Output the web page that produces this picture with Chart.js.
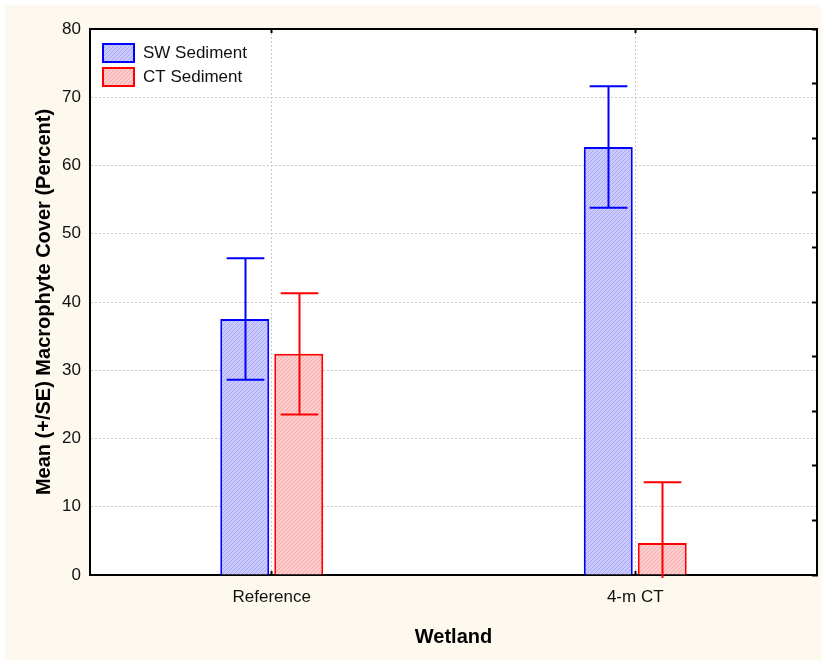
<!DOCTYPE html>
<html><head><meta charset="utf-8">
<script src="https://cdn.jsdelivr.net/npm/chart.js@4/dist/chart.umd.min.js"></script>
<style>html,body{margin:0;padding:0;background:#fff;}#wrap{width:822px;height:662px;}</style>
</head><body><div id="wrap"><canvas id="c" width="822" height="662"></canvas></div>
<script>
const categories = ['Reference', '4-m CT'];
const seriesNames = ['SW Sediment', 'CT Sediment'];
const swMeans = [37.5, 62.7];
const ctMeans = [32.4, 4.7];
const swSE = [8.9, 8.9];
const ctSE = [8.9, 8.9];
const yMin = 0, yMax = 80, yStep = 10, rightTickStep = 8;
const xTitle = 'Wetland';
const yTitle = 'Mean (+/SE) Macrophyte Cover (Percent)';

function makePattern(bg, fg) {
  const p = document.createElement('canvas');
  p.width = 4; p.height = 4;
  const g = p.getContext('2d');
  g.fillStyle = bg; g.fillRect(0, 0, 4, 4);
  g.fillStyle = fg;
  for (let i = 0; i < 4; i++) g.fillRect(i, 3 - i, 1, 1);
  return g.createPattern(p, 'repeat');
}
const ctx = document.getElementById('c').getContext('2d');
const bluePat = makePattern('#cacaff', '#a8a8f4');
const redPat = makePattern('#ffcccc', '#f4abab');

const bgPlugin = {
  id: 'bg',
  beforeDraw(chart) {
    const c = chart.ctx, a = chart.chartArea;
    c.save();
    c.fillStyle = '#ffffff'; c.fillRect(0, 0, chart.width, chart.height);
    c.fillStyle = '#fdf9ef'; c.fillRect(5, 5, chart.width - 5, chart.height - 7);
    c.fillStyle = '#ffffff'; c.fillRect(a.left, a.top, a.right - a.left, a.bottom - a.top);
    c.restore();
  }
};

const errPlugin = {
  id: 'errbars',
  afterDatasetsDraw(chart) {
    const c = chart.ctx, a = chart.chartArea, ys = chart.scales.y;
    c.save();
    c.beginPath(); c.rect(a.left, a.top, a.right - a.left, a.bottom - a.top + 3); c.clip();
    chart.data.datasets.forEach((ds, di) => {
      const meta = chart.getDatasetMeta(di);
      meta.data.forEach((bar, i) => {
        const v = ds.data[i], se = ds.se[i];
        const x = Math.round(bar.x) + 0.5;
        const yu = ys.getPixelForValue(v + se), yl = ys.getPixelForValue(v - se);
        const half = bar.width * 0.385;
        c.strokeStyle = ds.borderColor; c.lineWidth = 2;
        c.beginPath();
        c.moveTo(x, yl); c.lineTo(x, yu);
        c.moveTo(x - half, yu); c.lineTo(x + half, yu);
        if (v - se >= yMin) { c.moveTo(x - half, yl); c.lineTo(x + half, yl); }
        c.stroke();
      });
    });
    c.restore();
  }
};

const legendPlugin = {
  id: 'insideLegend',
  afterDraw(chart) {
    const c = chart.ctx, a = chart.chartArea;
    c.save();
    c.font = '17px "Liberation Sans", Arial, sans-serif';
    c.textBaseline = 'middle'; c.textAlign = 'left';
    chart.data.datasets.forEach((ds, i) => {
      const bx = a.left + 13, by = a.top + 15 + i * 24;
      c.fillStyle = ds.backgroundColor; c.fillRect(bx, by, 31, 18);
      c.strokeStyle = ds.borderColor; c.lineWidth = 2; c.strokeRect(bx, by, 31, 18);
      c.fillStyle = '#111'; c.fillText(ds.label, a.left + 53, by + 9.5);
    });
    c.restore();
  }
};

const tickFont = { family: '"Liberation Sans", Arial, sans-serif', size: 17 };
const titleFont = { family: '"Liberation Sans", Arial, sans-serif', size: 20, weight: 'bold' };

new Chart(ctx, {
  type: 'bar',
  data: {
    labels: categories,
    datasets: [
      { label: seriesNames[0], data: swMeans, se: swSE, backgroundColor: bluePat, borderColor: '#0000ff', borderWidth: 2,
        categoryPercentage: 0.297, barPercentage: 0.907 },
      { label: seriesNames[1], data: ctMeans, se: ctSE, backgroundColor: redPat, borderColor: '#ff0000', borderWidth: 2,
        categoryPercentage: 0.297, barPercentage: 0.907 }
    ]
  },
  options: {
    responsive: false, animation: false, devicePixelRatio: 1,
    layout: { padding: 0 },
    plugins: { legend: { display: false }, tooltip: { enabled: false } },
    scales: {
      x: {
        position: 'bottom', offset: true,
        grid: { offset: false, color: '#c8c8c8', lineWidth: 1, tickLength: -4, tickColor: '#000', tickWidth: 2 },
        border: { display: true, color: '#000', width: 2, dash: [2, 2] },
        ticks: { font: tickFont, color: '#111', padding: 16, maxRotation: 0 },
        title: { display: true, text: xTitle, font: titleFont, color: '#000', padding: { top: 0, bottom: 13 } },
        afterFit(s) { s.height = 87; }
      },
      x2: {
        position: 'top', type: 'category', labels: categories, offset: true,
        grid: { offset: false, drawOnChartArea: false, tickLength: -4, tickColor: '#000', tickWidth: 2 },
        border: { display: true, color: '#000', width: 2 },
        ticks: { display: false },
        afterFit(s) { s.height = 29; }
      },
      y: {
        position: 'left', min: yMin, max: yMax,
        grid: { color: '#c8c8c8', lineWidth: 1, drawTicks: false },
        border: { display: true, color: '#000', width: 2, dash: [2, 2] },
        ticks: { stepSize: yStep, font: tickFont, color: '#111', padding: 9 },
        title: { display: true, text: yTitle, font: titleFont, color: '#000', padding: { top: 32, bottom: 0 } },
        afterFit(s) { s.width = 90; }
      },
      y2: {
        position: 'right', min: yMin, max: yMax,
        grid: { drawOnChartArea: false, tickLength: -5, tickColor: '#000', tickWidth: 2 },
        border: { display: true, color: '#000', width: 2 },
        ticks: { display: false, stepSize: rightTickStep },
        afterFit(s) { s.width = 5; }
      }
    }
  },
  plugins: [bgPlugin, errPlugin, legendPlugin]
});
</script></body></html>
